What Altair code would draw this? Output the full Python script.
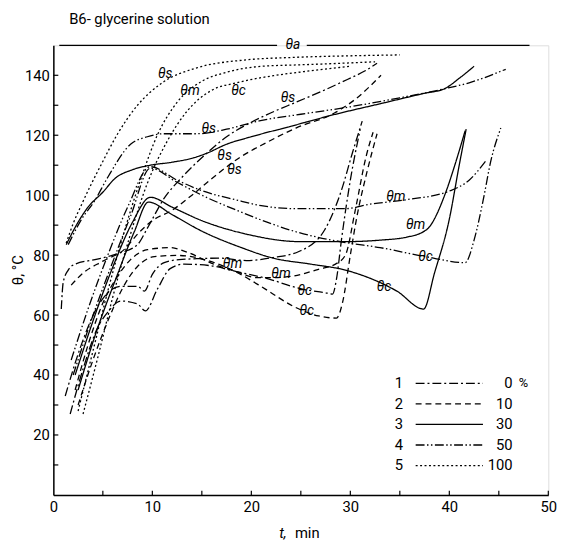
import altair as alt
import pandas as pd

# ---------------- data ----------------
series_names = ["0 %", "10 %", "30 %", "50 %", "100 %"]

# 0 % (dash-dot)
t1s = [0.8, 1.0, 1.5, 2.2, 4.2, 6.5, 8.5, 9.5, 11.2, 13, 15.5, 17.5, 19.8, 22, 24.5, 27, 29.7, 31.5, 32.7]
y1s = [62, 71, 75, 77, 78.5, 80.5, 83.5, 89, 99, 106, 114, 119.5, 124, 127.5, 131, 134.5, 138.6, 141.5, 144]
t1m = [1.2, 2.5, 4.5, 6.8, 8.5, 9.2, 10, 11.2, 12.7, 14.5, 16.8, 19.5, 22.2, 24.8, 27.4, 29.1, 30.2, 31.2]
y1m = [33, 47, 63, 69.6, 69.6, 68, 73.6, 77.5, 78.5, 78.8, 79, 78.2, 79.2, 81.2, 88.4, 101.6, 114, 124.7]
t1c = [1.7, 3, 4.5, 5.5, 6.8, 8.5, 9.3, 10.5, 11.8, 13.2, 15.8, 18.5, 21.8, 24.2, 25.4, 27.4, 28.2, 28.6, 29.1, 30, 31]
y1c = [27, 42, 56, 61, 64.7, 63.7, 61.4, 68.6, 75.5, 77, 76.5, 74.5, 72, 69.5, 68.5, 67.5, 67, 72, 85, 105, 122]

# 10 % (dashed)
t2s = [1.8, 3, 5, 7.2, 8.5, 10, 12, 14, 15.8, 18.8, 21.5, 24.5, 28.4, 30.5, 33.1]
y2s = [70, 74, 78, 82, 87, 91.5, 95, 100, 105, 112.5, 117.5, 122.4, 127.4, 132, 140]
t2m = [2.2, 3.5, 5, 6.5, 7.8, 9.5, 11.8, 13.5, 16.2, 18.5, 20.5, 22.1, 24.2, 26.7, 28.5, 29.5, 30.5, 31.6, 32.3]
y2m = [35, 50, 64, 73, 78.5, 81.8, 82.5, 81, 77, 74.5, 72.5, 72.5, 73, 75.2, 77, 80, 95, 113, 121]
t2c = [2.5, 4, 5.5, 7, 8.5, 10.2, 12.5, 15.8, 18.5, 21.5, 24.2, 26.8, 28.6, 29.2, 30, 30.6, 31.7, 32.7]
y2c = [30, 45, 58, 69, 76.2, 79.5, 79.9, 78, 74.3, 68.5, 63, 59.7, 59, 64, 80, 91.7, 108, 120.5]

# 30 % (solid)
t3s = [1.3, 2.5, 3.5, 5, 6.2, 8, 9.8, 12, 14.2, 15.5, 17.5, 20, 24, 28.5, 33, 37.5, 39.5, 41, 42.5]
y3s = [83.5, 91, 96, 101, 105.5, 108.5, 110, 111, 112.5, 114, 117, 119.5, 123, 127, 130.5, 134, 135.5, 139, 143]
t3m = [2.2, 4, 6, 8, 9.8, 12, 15, 19.5, 25, 29.5, 33, 35.7, 37.7, 39.7, 40.6, 41.6]
y3m = [40, 58, 76, 91, 99.3, 96, 91.5, 87, 84.5, 84.5, 85, 86, 88.5, 101.5, 110.5, 121.5]
t3c = [2.5, 4.3, 6.3, 8.2, 9.6, 12, 15, 19, 22.2, 26, 29.5, 32.7, 34.7, 37.4, 38.5, 40, 41, 41.7]
y3c = [35, 54, 72, 88, 97.7, 93.5, 88, 82.5, 79, 77, 75, 71.3, 68, 62, 74, 92, 110, 122]

# 50 % (dash-dot-dot)
t4s = [1.5, 2.8, 4.2, 5.5, 7.8, 9.5, 11.2, 14.5, 17.5, 20.8, 25, 30, 35, 39.5, 42, 45.7]
y4s = [83.5, 91.7, 98.3, 106, 117, 119.5, 120.5, 120.5, 122, 124.8, 127, 129.5, 132.5, 135.5, 137.5, 142]
t4m = [1.8, 3.5, 5.5, 7.5, 9.8, 12.5, 15, 18.5, 21, 24.5, 29.5, 32, 35.7, 40.1, 42, 43.7]
y4m = [45, 62, 80, 96, 109.5, 105, 101.5, 98.4, 96.5, 95.5, 95.5, 97, 98.5, 101.5, 105, 111.5]
t4c = [2, 3.8, 5.8, 7.8, 9.8, 12.5, 15, 18.5, 22, 24.5, 29.5, 33, 37.6, 41.6, 42.5, 43.4, 44.2, 45.2]
y4c = [40, 58, 76, 93, 109, 104.3, 100, 95, 90.5, 87.8, 84.2, 82.5, 79.5, 77.5, 85, 98, 111.5, 122.4]

# 100 % (dotted)
t5s = [1.3, 2.0, 2.8, 3.8, 4.8, 6.5, 8.5, 11, 14.5, 19, 24.5, 30, 35]
y5s = [84, 90.5, 96.5, 103.5, 110, 120.5, 130, 137.5, 142.5, 145, 146, 146.5, 146.8]
t5m = [2.5, 4, 5.5, 7, 8.8, 10.5, 12.5, 15, 17.5, 21, 25, 29, 32.5]
y5m = [28, 48, 68, 86, 105, 120, 131, 138, 141, 143, 143.5, 144, 144.5]
t5c = [3, 4.5, 6, 7.7, 9.5, 11.5, 13.5, 16, 18.5, 22.5, 26, 30]
y5c = [27, 46, 66, 86, 104, 118, 128, 135, 137.5, 140, 141.5, 143]

# ambient temperature theta_a
ta_start = [0.6, 25.6]
ta_end = [22.6, 48.1]
ta_value = 150

# curve labels
label_text = ["θs", "θm", "θc", "θs", "θs", "θs", "θs",
              "θm", "θm", "θc", "θc", "θm", "θm", "θc", "θc", "θa"]
label_t = [11.3, 13.8, 18.7, 23.7, 15.7, 17.3, 18.3,
           18.1, 23.0, 25.4, 25.6, 34.6, 36.6, 37.6, 33.4, 24.2]
label_theta = [140.3, 134.7, 134.7, 132.3, 122.1, 113.2, 108.3,
               76.9, 73.6, 68.0, 61.4, 99.3, 90.1, 79.5, 69.3, 150.0]

# legend
legend_nums = ["1", "2", "3", "4", "5"]
legend_vals = ["0", "10", "30", "50", "100"]

# axis ticks
x_labels = [0, 10, 20, 30, 40, 50]
x_ticks = [5, 10, 15, 20, 25, 30, 35, 40, 45, 50]
y_labels = [20, 40, 60, 80, 100, 120, 140]
y_ticks = [10, 20, 30, 40, 50, 60, 70, 80, 90, 100, 110, 120, 130, 140]

# ---------------- build tables ----------------
curves = [
    ("0 %", "s", t1s, y1s), ("0 %", "m", t1m, y1m), ("0 %", "c", t1c, y1c),
    ("10 %", "s", t2s, y2s), ("10 %", "m", t2m, y2m), ("10 %", "c", t2c, y2c),
    ("30 %", "s", t3s, y3s), ("30 %", "m", t3m, y3m), ("30 %", "c", t3c, y3c),
    ("50 %", "s", t4s, y4s), ("50 %", "m", t4m, y4m), ("50 %", "c", t4c, y4c),
    ("100 %", "s", t5s, y5s), ("100 %", "m", t5m, y5m), ("100 %", "c", t5c, y5c),
]
rows = []
for s, c, ts, ys in curves:
    for t, y in zip(ts, ys):
        rows.append({"key": s + c, "series": s, "t": t, "theta": y})
df = pd.DataFrame(rows)

dashes = [[9, 3, 2, 3], [6, 4], [1, 0], [9, 2.5, 1.5, 2.5, 1.5, 2.5], [2, 2.5]]
dash_scale = alt.Scale(domain=series_names, range=dashes)

FONT = "Roboto"
XS = alt.Scale(domain=[0, 50], nice=False, zero=False)
YS = alt.Scale(domain=[0, 150], nice=False, zero=False)
x_axis = alt.Axis(values=x_labels, ticks=False, grid=False, domainColor="black",
                  domainWidth=1.5, labelFont=FONT, labelFontSize=15, labelColor="black",
                  labelPadding=5, title=None, format="d", labelFlush=False)
y_axis = alt.Axis(values=y_labels, ticks=False, grid=False, domainColor="black",
                  domainWidth=1.5, labelFont=FONT, labelFontSize=15, labelColor="black",
                  labelPadding=4, title=None, format="d")


def X(f):
    return alt.X(f, type="quantitative", scale=XS, axis=x_axis)


def Y(f):
    return alt.Y(f, type="quantitative", scale=YS, axis=y_axis)


lines = alt.Chart(df).mark_line(color="black", strokeWidth=1.3, interpolate="monotone").encode(
    x=X("t"), y=Y("theta"), detail="key:N",
    strokeDash=alt.StrokeDash("series:N", scale=dash_scale, legend=None),
    order="t:Q",
)

ta_df = pd.DataFrame({"t": ta_start, "t1": ta_end, "theta": [ta_value] * len(ta_start)})
ta_line = alt.Chart(ta_df).mark_rule(color="black", strokeWidth=1.4).encode(
    x=X("t"), x2="t1", y=Y("theta"))

lab_df = pd.DataFrame({"t": label_t, "theta": label_theta, "txt": label_text})
labels = alt.Chart(lab_df).mark_text(font=FONT, fontSize=14, fontStyle="italic",
                                     color="black").encode(
    x=X("t"), y=Y("theta"), text="txt:N")

# inward ticks
xt_df = pd.DataFrame({"t": x_ticks, "theta": [0] * len(x_ticks), "theta2": [1.4] * len(x_ticks)})
xt = alt.Chart(xt_df).mark_rule(color="black", strokeWidth=1.2).encode(
    x=X("t"), y=Y("theta"), y2="theta2")
yt_df = pd.DataFrame({"theta": y_ticks, "t": [0] * len(y_ticks), "t2": [0.5] * len(y_ticks)})
yt = alt.Chart(yt_df).mark_rule(color="black", strokeWidth=1.2).encode(
    y=Y("theta"), x=X("t"), x2="t2")

# legend (inside plot, lower right)
row_y = [37.2 - 6.85 * i for i in range(len(series_names))]
leg_df = pd.DataFrame({"series": series_names, "num": legend_nums, "val": legend_vals,
                       "theta": row_y, "t": [36.6] * 5, "t2": [43.4] * 5,
                       "tn": [34.9] * 5, "tv": [46.4] * 5})
leg_lines = alt.Chart(leg_df).mark_rule(color="black", strokeWidth=1.3).encode(
    x=X("t"), x2="t2", y=Y("theta"),
    strokeDash=alt.StrokeDash("series:N", scale=dash_scale, legend=None))
leg_num = alt.Chart(leg_df).mark_text(font=FONT, fontSize=15, color="black").encode(
    x=X("tn"), y=Y("theta"), text="num:N")
leg_val = alt.Chart(leg_df).mark_text(font=FONT, fontSize=15, color="black", align="right").encode(
    x=X("tv"), y=Y("theta"), text="val:N")
pct = alt.Chart(leg_df.iloc[[0]]).mark_text(font=FONT, fontSize=13, color="black", align="left").encode(
    x=alt.value(472), y=Y("theta"), text=alt.value("%"))

one = pd.DataFrame({"a": [0]})
title = alt.Chart(one).mark_text(font=FONT, fontSize=15, color="black", align="left",
                                 baseline="middle").encode(
    x=alt.value(16), y=alt.value(-27), text=alt.value("B6- glycerine solution"))
xtitle_t = alt.Chart(one).mark_text(font=FONT, fontSize=15, fontStyle="italic", color="black",
                                    align="left", baseline="middle").encode(
    x=alt.value(229), y=alt.value(495), text=alt.value("t,"))
xtitle_min = alt.Chart(one).mark_text(font=FONT, fontSize=15, color="black",
                                      align="left", baseline="middle").encode(
    x=alt.value(245), y=alt.value(495), text=alt.value("min"))
ytitle = alt.Chart(one).mark_text(font=FONT, fontSize=15, color="black", angle=270,
                                  baseline="middle").encode(
    x=alt.value(-36), y=alt.value(228), text=alt.value("θ,  °C"))

chart = alt.layer(
    lines, ta_line, xt, yt, labels, leg_lines, leg_num, leg_val, pct,
    title, xtitle_t, xtitle_min, ytitle
).properties(
    width=502, height=456,
    autosize=alt.AutoSizeParams(type="none"),
    padding={"left": 46, "top": 34, "right": 22, "bottom": 51},
).configure_view(stroke=None).configure(background="white")

chart.save("out.html", embed_options={"renderer": "svg", "actions": False})
